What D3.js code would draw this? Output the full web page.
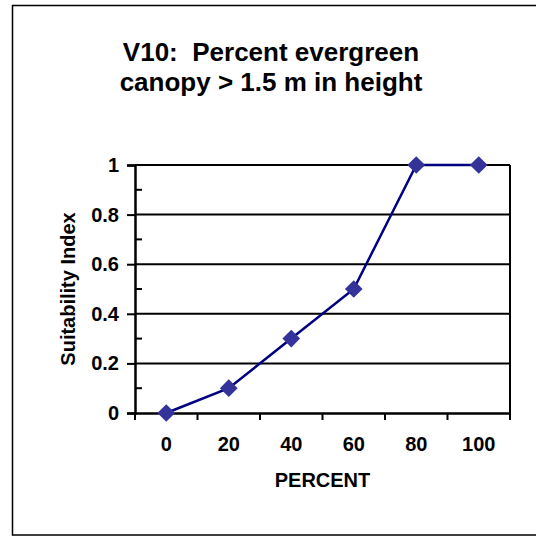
<!DOCTYPE html>
<html>
<head>
<meta charset="utf-8">
<script src="https://cdn.jsdelivr.net/npm/d3@7"></script>
<style>
  html, body { margin: 0; padding: 0; background: #fff; }
  svg text { font-family: Arial, "Liberation Sans", sans-serif; font-weight: bold; fill: #000; white-space: pre; }
</style>
</head>
<body>
<svg id="chart" width="536" height="537"></svg>
<script>
// Suitability index curve for variable V10
const categories = ["0", "20", "40", "60", "80", "100"];
const suitability = [0, 0.1, 0.3, 0.5, 1, 1];
const yTicks = [0, 0.2, 0.4, 0.6, 0.8, 1];
const yMinorTicks = [0.1, 0.3, 0.5, 0.7, 0.9];
const titleLines = ["V10:  Percent evergreen", "canopy > 1.5 m in height"];
const xTitle = "PERCENT";
const yTitle = "Suitability Index";

const svg = d3.select("#chart");

// Chart frame
svg.append("rect")
  .attr("x", 12.5).attr("y", 5.5)
  .attr("width", 600).attr("height", 529.5)
  .attr("fill", "none").attr("stroke", "#000").attr("stroke-width", 1.5);

const plot = { left: 135, right: 510, top: 165, bottom: 413 };

const x = d3.scaleBand().domain(categories).range([plot.left, plot.right]);
const y = d3.scaleLinear().domain([0, 1]).range([plot.bottom, plot.top]);

// Title
const title = svg.append("text")
  .attr("text-anchor", "middle")
  .attr("xml:space", "preserve")
  .style("font-size", "26px");
titleLines.forEach((line, i) => {
  title.append("tspan").attr("x", 271).attr("y", 61 + i * 30).text(line);
});

// Horizontal gridlines
svg.append("g").selectAll("line")
  .data(yTicks.filter(d => d > 0))
  .join("line")
  .attr("x1", plot.left).attr("x2", plot.right)
  .attr("y1", d => y(d)).attr("y2", d => y(d))
  .attr("stroke", "#000").attr("stroke-width", 2);

// Right edge of the plot area
svg.append("line")
  .attr("x1", plot.right).attr("x2", plot.right)
  .attr("y1", plot.top).attr("y2", plot.bottom)
  .attr("stroke", "#000").attr("stroke-width", 2);

// Y axis with outside major ticks
const yAxis = svg.append("g")
  .attr("transform", `translate(${plot.left},0)`)
  .call(d3.axisLeft(y).tickValues(yTicks).tickFormat(d3.format("")).tickSize(8).tickPadding(8));
yAxis.select(".domain").attr("stroke-width", 2.5);
yAxis.selectAll(".tick line").attr("stroke-width", 2);
yAxis.selectAll(".tick text").style("font-size", "20px").attr("font-family", null);

// Minor ticks inside the plot
svg.append("g").selectAll("line")
  .data(yMinorTicks)
  .join("line")
  .attr("x1", plot.left).attr("x2", plot.left + 7)
  .attr("y1", d => y(d)).attr("y2", d => y(d))
  .attr("stroke", "#000").attr("stroke-width", 2);

// X axis: labels centred on categories, ticks on category boundaries
const xAxis = svg.append("g")
  .attr("transform", `translate(0,${plot.bottom})`)
  .call(d3.axisBottom(x).tickSize(0).tickPadding(24));
xAxis.select(".domain").attr("stroke-width", 2.5);
xAxis.selectAll(".tick text").style("font-size", "20px").attr("font-family", null);

const boundaries = categories.map(c => x(c)).concat([plot.right]);
svg.append("g").selectAll("line")
  .data(boundaries)
  .join("line")
  .attr("x1", d => d).attr("x2", d => d)
  .attr("y1", plot.bottom).attr("y2", plot.bottom + 7)
  .attr("stroke", "#000").attr("stroke-width", 2);

// Axis titles
svg.append("text")
  .attr("x", (plot.left + plot.right) / 2).attr("y", 487)
  .attr("text-anchor", "middle")
  .style("font-size", "20px")
  .text(xTitle);

svg.append("text")
  .attr("transform", `translate(75,${(plot.top + plot.bottom) / 2}) rotate(-90)`)
  .attr("text-anchor", "middle")
  .style("font-size", "20px")
  .text(yTitle);

// Series line and markers
const pts = categories.map((c, i) => [x(c) + x.bandwidth() / 2, y(suitability[i])]);

svg.append("path")
  .attr("d", d3.line()(pts))
  .attr("fill", "none")
  .attr("stroke", "#000080")
  .attr("stroke-width", 2.5);

svg.append("g").selectAll("path")
  .data(pts)
  .join("path")
  .attr("transform", d => `translate(${d[0]},${d[1]})`)
  .attr("d", d3.symbol(d3.symbolDiamond2, 200)())
  .attr("fill", "#333399");
</script>
</body>
</html>
